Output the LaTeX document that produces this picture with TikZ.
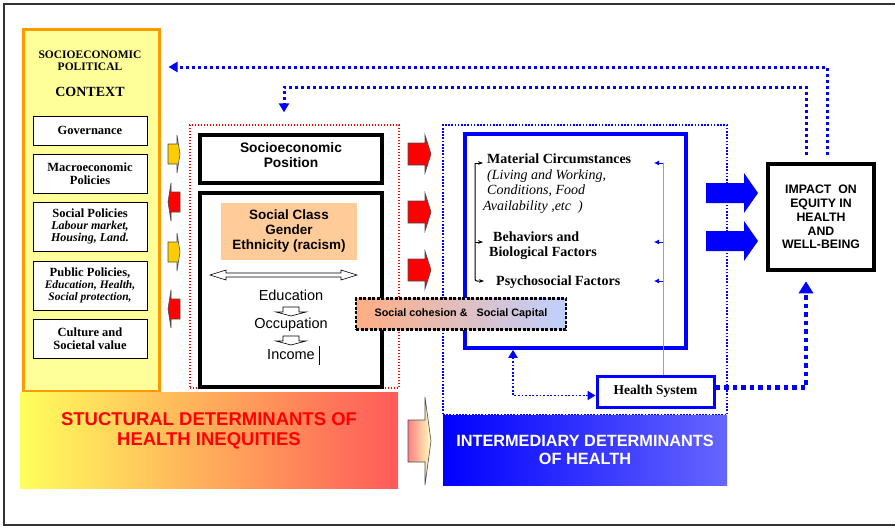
\documentclass[tikz,border=0pt]{standalone}
\usepackage{fontspec}
\setmainfont{Liberation Serif}
\newfontfamily\arialf{Liberation Sans}
\usetikzlibrary{arrows.meta}
\definecolor{ctxyellow}{HTML}{FFFF99}
\definecolor{ctxorange}{HTML}{FF9900}
\definecolor{peach}{HTML}{FFCC99}
\definecolor{arrowgold}{HTML}{FFCC00}
\definecolor{lightblue}{HTML}{C0D0FF}
\definecolor{thinblue}{HTML}{8899FF}
\tikzset{
  ctxbox/.style={draw, fill=white, line width=1pt, minimum width=114, align=center, inner sep=1pt,
    font=\bfseries\fontsize{12.5}{13}\selectfont},
  thickbox/.style={draw, line width=4pt, minimum width=182},
  reddots/.style={draw=red, line width=1.3pt, dash pattern=on 1.3pt off 1.7pt},
  bluedots/.style={draw=blue, line width=1.7pt, dash pattern=on 1.7pt off 1.5pt},
  fbdots/.style={blue, line width=3pt, dash pattern=on 3pt off 3pt, -{Triangle[length=9pt,width=10pt]}},
  hsdots/.style={blue, line width=4.5pt, dash pattern=on 4.5pt off 4pt, -{Triangle[length=12pt,width=14pt]}},
  blockarrow/.style={draw=black!70, line width=0.6pt},
  sanstext/.style={font=\arialf\fontsize{14.5}{15.5}\selectfont},
  sansbold/.style={font=\arialf\bfseries\fontsize{13.5}{15}\selectfont},
}
\begin{document}
\begin{tikzpicture}[x=1pt,y=-1pt]
\useasboundingbox (0,0) rectangle (895,528);
\draw[black!80, line width=1.5pt] (895,4) -- (4,4) -- (4,525) -- (895,525);

% socioeconomic and political context
\node[draw=ctxorange, fill=ctxyellow, line width=3pt, minimum width=136, minimum height=362] (ctx) at (91,210) {};
\node[align=center, font=\bfseries\fontsize{11.5}{12}\selectfont] (ctxtitle) at (90,61) {SOCIOECONOMIC\\POLITICAL};
\node[font=\bfseries\fontsize{14}{15}\selectfont] (ctxname) at (90,92) {CONTEXT};
\node[ctxbox, minimum height=29] (gov) at (90,130.5) {Governance};
\node[ctxbox, minimum height=39] (macro) at (90,173.5) {Macroeconomic\\Policies};
\node[ctxbox, minimum height=49] (socpol) at (90,226.5) {Social Policies\\[-1pt]
  {\itshape\fontsize{12}{12}\selectfont Labour market,}\\[-1pt]{\itshape\fontsize{12}{12}\selectfont Housing, Land.}};
\node[ctxbox, minimum height=49] (pubpol) at (90,285.5) {Public Policies,\\[-1pt]
  {\itshape\fontsize{11.5}{11}\selectfont Education, Health,}\\[-1pt]{\itshape\fontsize{11.5}{11}\selectfont Social protection,}};
\node[ctxbox, minimum height=39] (culture) at (90,338.5) {Culture and\\Societal value};

\foreach \y in {154,252}
  \draw[blockarrow, fill=arrowgold, shift={(168,\y)}] (0,-10) -- (9,-10) -- (9,-19) -- (12,0) -- (9,19) -- (9,10) -- (0,10) -- cycle;
\foreach \y in {202,309}
  \draw[blockarrow, fill=red, shift={(168,\y)}] (12,-10) -- (3,-10) -- (3,-19) -- (0,0) -- (3,19) -- (3,10) -- (12,10) -- cycle;

% structural determinants
\node[reddots, minimum width=209, minimum height=263] (strbox) at (294.5,256.5) {};
\node[thickbox, minimum height=48] (sep) at (290.5,159) {};
\node[sansbold, align=center, font=\arialf\bfseries\fontsize{13.8}{15}\selectfont] (septext) at (291,155.5) {Socioeconomic\\Position};
\node[thickbox, minimum height=194] (scbox) at (290.5,290) {};
\node[fill=peach, minimum width=136, minimum height=57, align=center, sansbold] (class) at (289,231.5) {Social Class\\Gender\\Ethnicity (racism)};
\draw[fill=white, line width=0.6pt] (210,275) -- (226,270) -- (226,273) -- (341,273) -- (341,270) -- (357,275)
  -- (341,280) -- (341,277) -- (226,277) -- (226,280) -- cycle;
\node[sanstext] (edu) at (291,295) {Education};
\node[sanstext] (occ) at (291,325) {Occupation};
\node[sanstext] (inc) at (291,355) {Income};
\foreach \y in {307,336}
  \draw[fill=white, line width=0.6pt, shift={(291,\y)}] (-8,0) -- (8,0) -- (8,5) -- (15,5) -- (0,9) -- (-15,5) -- (-8,5) -- cycle;
\draw[line width=0.8pt] ([xshift=1]inc.east) ++(0,-9) -- ++(0,19);

\foreach \y in {154,212,270}
  \draw[blockarrow, fill=red, shift={(408,\y)}] (0,-11) -- (17,-11) -- (17,-19) -- (23,0) -- (17,19) -- (17,11) -- (0,11) -- cycle;

% intermediary determinants
\node[bluedots, minimum width=284, minimum height=290] (intbox) at (585,270) {};
\node[draw=blue, line width=3.5pt, minimum width=221, minimum height=214] (circ) at (575.5,241) {};
\node[anchor=north west, align=left, inner sep=0pt, font=\fontsize{14}{15.5}\selectfont] (mat) at (487,154)
  {\textbf{Material Circumstances}\\\textit{(Living and Working,}\\\textit{Conditions, Food}\\[0pt]\hspace*{-4pt}\textit{Availability ,etc\ \ )}};
\node[anchor=north west, align=left, inner sep=0pt, font=\bfseries\fontsize{14}{14.5}\selectfont] (beh) at (489,232)
  {\hspace*{4pt}Behaviors and\\Biological Factors};
\node[anchor=west, inner sep=0pt, font=\bfseries\fontsize{14}{15}\selectfont] (psy) at (496,282) {Psychosocial Factors};
\draw[line width=1pt, -{Stealth[length=5pt]}] (475,163) -- (483,163);
\draw[line width=1pt, -{Stealth[length=5pt]}] (475,242) -- (483,242);
\draw[line width=1pt, -{Stealth[length=5pt]}, rounded corners=2pt] (475,163) -- (475,281) -- (484,281);

\node[draw=blue, fill=white, line width=3pt, minimum width=117, minimum height=31, font=\bfseries\fontsize{13.5}{15}\selectfont] (hs) at (655.5,391.5) {Health System};
\draw[thinblue, line width=0.8pt] (hs.north -| 663,0) -- (663,163);
\foreach \y in {163,242,281}
  \draw[blue, line width=0.8pt, -{Latex[length=5pt,width=5pt]}] (663,\y) -- (654,\y);
\draw[blue, line width=1.8pt, dash pattern=on 1.8pt off 1.8pt, {Triangle[length=8pt,width=9pt]}-{Triangle[length=8pt,width=9pt]}]
  (circ.south -| 513,0) |- ([yshift=-4]hs.west);

\node[draw, line width=2.5pt, dash pattern=on 3pt off 1.5pt, shading=axis, left color=peach!85!red, right color=lightblue,
  minimum width=210, minimum height=31, font=\arialf\bfseries\fontsize{10.8}{12}\selectfont] (cohesion) at (461,314)
  {Social cohesion \&\ \ \ Social Capital};

\foreach \y in {193,241}
  \draw[blockarrow, draw=none, fill=blue, shift={(706,\y)}] (0,-10) -- (38,-10) -- (38,-20) -- (52,0) -- (38,20) -- (38,10) -- (0,10) -- cycle;

% impact
\node[draw, line width=4.5pt, minimum width=106, minimum height=106, align=center,
  font=\arialf\bfseries\fontsize{12.3}{13.8}\selectfont] (impact) at (821,217) {IMPACT\ \ ON\\EQUITY IN\\HEALTH\\AND\\WELL-BEING};

\draw[fbdots, shorten <=7pt] (impact.north -| 827,0) -- (827,67) -- ([xshift=8]ctx.east |- 0,67);
\draw[fbdots, shorten <=7pt] (impact.north -| 806,0) -- (806,87) -- (284,87) -- ([yshift=12]strbox.north -| 284,0);
\draw[hsdots] (hs.east) ++(0,-4) -| ([yshift=-9]impact.south -| 806,0);

% bottom banners
\node[shading=axis, left color=ctxyellow!60!yellow, right color=red!65!white, minimum width=378, minimum height=96] (sdh) at (209,440) {};
\node[align=center, text=red, font=\arialf\bfseries\fontsize{18.5}{19.5}\selectfont] (sdhtext) at (209,431) {STUCTURAL DETERMINANTS OF\\HEALTH INEQUITIES};
\draw[blockarrow, shading=axis, left color=red!50!white, right color=yellow!25!white, shift={(408,441)}]
  (0,-21) -- (17,-21) -- (17,-44) -- (23,0) -- (17,44) -- (17,21) -- (0,21) -- cycle;
\node[shading=axis, left color=blue, right color=blue!60!white, minimum width=284, minimum height=70, align=center,
  text=white, font=\arialf\bfseries\fontsize{16.3}{18}\selectfont] (idh) at (585,450) {INTERMEDIARY DETERMINANTS\\OF HEALTH};
\end{tikzpicture}
\end{document}
